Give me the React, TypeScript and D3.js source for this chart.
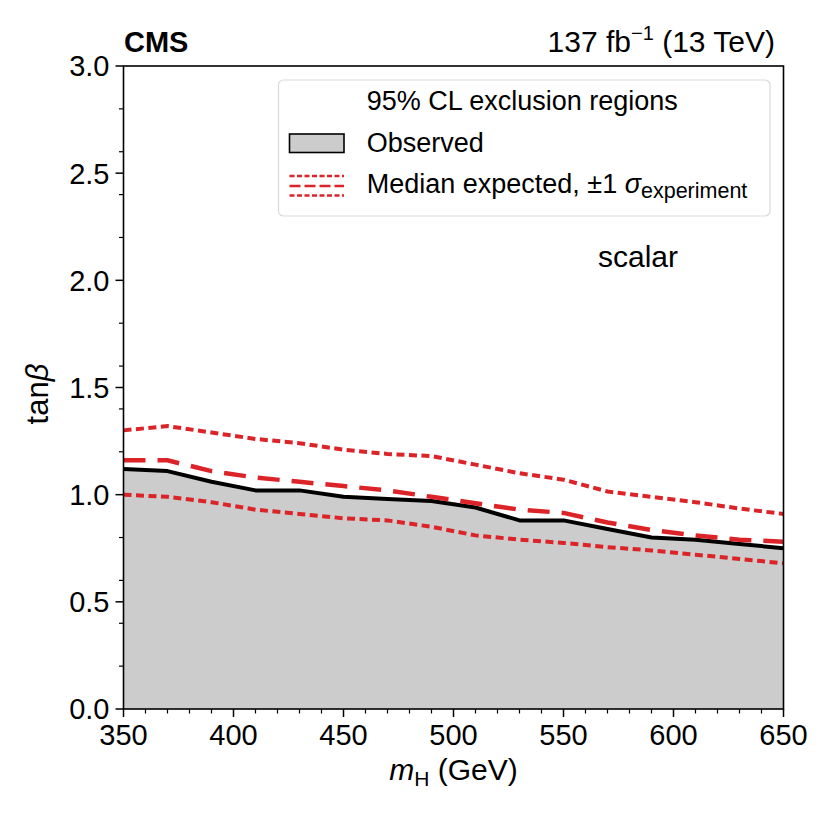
import React from "react";
import * as d3 from "d3";

// Mass points (GeV) and 95% CL excluded tan(beta) limits
const massPoints = [350, 370, 390, 410, 430, 450, 470, 490, 510, 530, 550, 570, 590, 610, 630, 650];
const observed = [1.12, 1.11, 1.06, 1.02, 1.02, 0.99, 0.98, 0.97, 0.94, 0.88, 0.88, 0.84, 0.8, 0.79, 0.77, 0.75];
const expectedMedian = [1.16, 1.16, 1.11, 1.08, 1.06, 1.04, 1.02, 0.99, 0.96, 0.93, 0.915, 0.87, 0.835, 0.81, 0.79, 0.78];
const expectedUp = [1.3, 1.32, 1.29, 1.26, 1.24, 1.21, 1.19, 1.18, 1.14, 1.1, 1.07, 1.015, 0.99, 0.965, 0.935, 0.91];
const expectedDown = [1.0, 0.99, 0.965, 0.93, 0.91, 0.89, 0.88, 0.85, 0.81, 0.79, 0.775, 0.755, 0.74, 0.72, 0.7, 0.68];

const xMajorTicks = [350, 400, 450, 500, 550, 600, 650];
const yMajorTicks = [0, 0.5, 1.0, 1.5, 2.0, 2.5, 3.0];

const FONT = "'Liberation Sans', Arial, Helvetica, sans-serif";
const RED = "#dc2328";

const plot = { left: 123.5, right: 783.5, top: 66, bottom: 709 };

export default function App() {
  const x = d3.scaleLinear().domain([350, 650]).range([plot.left, plot.right]);
  const y = d3.scaleLinear().domain([0, 3]).range([plot.bottom, plot.top]);

  const xMinor = d3.range(350, 651, 10).filter((v) => v % 50 !== 0);
  const yMinor = d3
    .range(0, 3.001, 0.2)
    .map((v) => Math.round(v * 10) / 10)
    .filter((v) => Math.abs(v * 2 - Math.round(v * 2)) > 1e-6);

  const idx = massPoints.map((_, i) => i);
  const lineOf = (vals: number[]) =>
    d3
      .line<number>()
      .x((i) => x(massPoints[i]))
      .y((i) => y(vals[i]))(idx) || "";
  const obsArea =
    d3
      .area<number>()
      .x((i) => x(massPoints[i]))
      .y0(y(0))
      .y1((i) => y(observed[i]))(idx) || "";

  const fmt = d3.format(".1f");

  return (
    <svg
      width={825}
      height={825}
      style={{ position: "absolute", left: 0, top: 0, background: "#fff" }}
      fontFamily={FONT}
    >
      <rect x={0} y={0} width={825} height={825} fill="#fff" />
      <defs>
        <clipPath id="plotClip">
          <rect x={plot.left} y={plot.top} width={plot.right - plot.left} height={plot.bottom - plot.top} />
        </clipPath>
      </defs>

      <g clipPath="url(#plotClip)">
        <path d={obsArea} fill="#cccccc" stroke="none" />
        <path d={lineOf(observed)} fill="none" stroke="#000" strokeWidth={4} strokeLinejoin="round" />
        <path d={lineOf(expectedUp)} fill="none" stroke={RED} strokeWidth={4} strokeDasharray="8,4.5" />
        <path d={lineOf(expectedDown)} fill="none" stroke={RED} strokeWidth={4} strokeDasharray="8,4.5" />
        <path d={lineOf(expectedMedian)} fill="none" stroke={RED} strokeWidth={4.5} strokeDasharray="22,12" />
      </g>

      {/* x axis ticks */}
      {xMajorTicks.map((v) => (
        <g key={"xt" + v}>
          <line x1={x(v)} x2={x(v)} y1={plot.bottom} y2={plot.bottom + 8} stroke="#000" strokeWidth={1.5} />
          <text x={x(v)} y={plot.bottom + 36} fontSize={29} textAnchor="middle" fill="#000">
            {v}
          </text>
        </g>
      ))}
      {xMinor.map((v) => (
        <line key={"xm" + v} x1={x(v)} x2={x(v)} y1={plot.bottom} y2={plot.bottom + 4.5} stroke="#000" strokeWidth={1.2} />
      ))}

      {/* y axis ticks */}
      {yMajorTicks.map((v) => (
        <g key={"yt" + v}>
          <line x1={plot.left} x2={plot.left - 8} y1={y(v)} y2={y(v)} stroke="#000" strokeWidth={1.5} />
          <text x={plot.left - 14} y={y(v)} dy="0.36em" fontSize={29} textAnchor="end" fill="#000">
            {fmt(v)}
          </text>
        </g>
      ))}
      {yMinor.map((v) => (
        <line key={"ym" + v} x1={plot.left} x2={plot.left - 4.5} y1={y(v)} y2={y(v)} stroke="#000" strokeWidth={1.2} />
      ))}

      {/* frame */}
      <rect
        x={plot.left}
        y={plot.top}
        width={plot.right - plot.left}
        height={plot.bottom - plot.top}
        fill="none"
        stroke="#000"
        strokeWidth={1.6}
      />

      {/* axis labels */}
      <text x={(plot.left + plot.right) / 2} y={780} fontSize={30} textAnchor="middle" fill="#000">
        <tspan fontStyle="italic">m</tspan>
        <tspan fontSize={21} dy={6}>H</tspan>
        <tspan dy={-6}> (GeV)</tspan>
      </text>
      <text transform={`translate(48, 394) rotate(-90)`} fontSize={31} textAnchor="middle" fill="#000">
        tan<tspan fontStyle="italic">β</tspan>
      </text>

      {/* header */}
      <text x={124} y={52} fontSize={29} fontWeight="bold" fill="#000">
        CMS
      </text>
      <text x={775} y={52} fontSize={30} textAnchor="end" fill="#000">
        137 fb<tspan fontSize={20} dy={-12}>−1</tspan>
        <tspan dy={12}> (13 TeV)</tspan>
      </text>

      {/* legend */}
      <rect x={278.5} y={80} width={491.5} height={136} rx={5} ry={5} fill="#fff" fillOpacity={0.9} stroke="#d9d9d9" strokeWidth={1.2} />
      <text x={366.7} y={110} fontSize={27} fill="#000">
        95% CL exclusion regions
      </text>
      <rect x={289.5} y={134} width={54.5} height={18.5} fill="#cccccc" stroke="#000" strokeWidth={1.6} />
      <text x={366.7} y={152} fontSize={27} fill="#000">
        Observed
      </text>
      <line x1={289.5} x2={344} y1={176} y2={176} stroke={RED} strokeWidth={2.5} strokeDasharray="5,2.5" />
      <line x1={289.5} x2={344} y1={186} y2={186} stroke={RED} strokeWidth={2.5} strokeDasharray="11,4" />
      <line x1={289.5} x2={344} y1={195.5} y2={195.5} stroke={RED} strokeWidth={2.5} strokeDasharray="5,2.5" />
      <text x={366.7} y={193} fontSize={27} fill="#000">
        Median expected, ±1 <tspan fontStyle="italic">σ</tspan>
        <tspan fontSize={21.5} dy={5}>experiment</tspan>
      </text>

      <text x={638} y={267} fontSize={30} textAnchor="middle" fill="#000">
        scalar
      </text>
    </svg>
  );
}
